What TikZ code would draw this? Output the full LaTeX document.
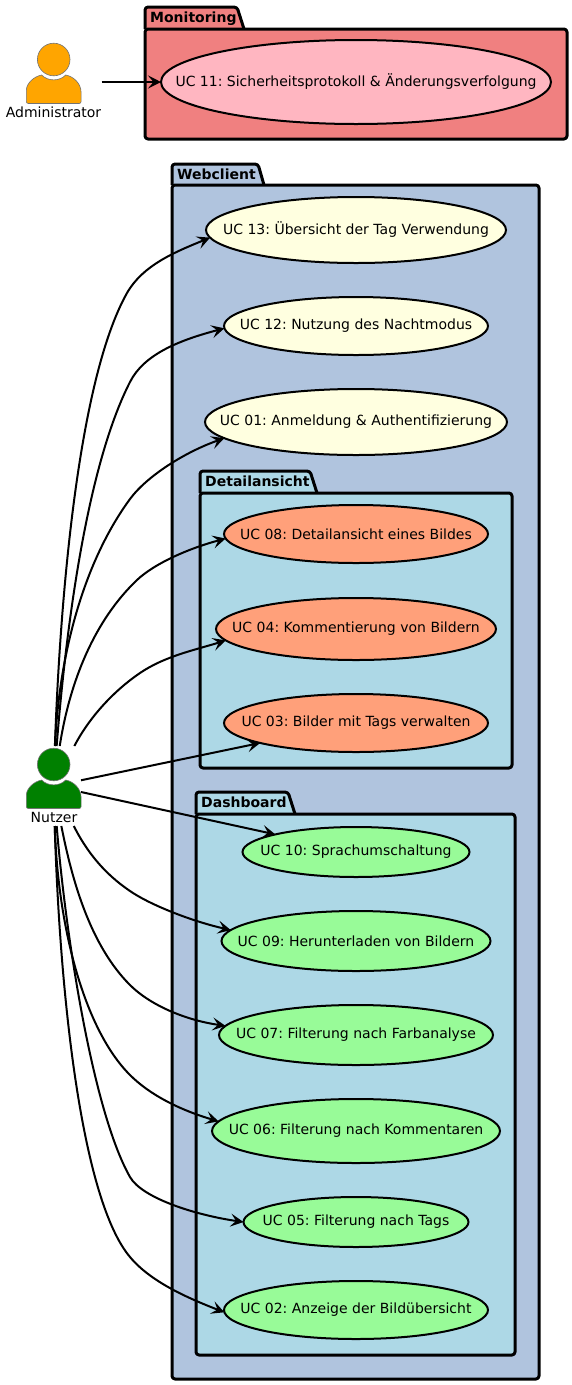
\documentclass[tikz,border=0pt]{standalone}
\usepackage{fontspec}
\setmainfont{DejaVu Sans}
\usetikzlibrary{arrows.meta}
\usetikzlibrary{shapes.geometric}

\definecolor{monitorbg}{HTML}{F08080}
\definecolor{webbg}{HTML}{B0C4DE}
\definecolor{innerbg}{HTML}{ADD8E6}
\definecolor{pinkuc}{HTML}{FFB6C1}
\definecolor{yellowuc}{HTML}{FFFFE0}
\definecolor{salmonuc}{HTML}{FFA07A}
\definecolor{greenuc}{HTML}{98FB98}
\definecolor{adminfill}{HTML}{FFA500}
\definecolor{nutzerfill}{HTML}{008000}

\tikzset{
    ucase/.style={ellipse, draw=black, line width=2, inner sep=0, outer sep=0,
        font=\fontsize{14}{16}\selectfont},
    actorbox/.style={inner sep=0, outer sep=0, minimum height=80},
    actorname/.style={inner sep=0, font=\fontsize{14}{16}\selectfont},
    pkgname/.style={inner sep=0, anchor=base west, font=\fontsize{14}{16}\selectfont\bfseries},
    pkgline/.style={draw=black, line width=3, rounded corners=3, line join=round},
    link/.style={line width=2, -{Stealth[length=13, width=13, inset=5.5]}}
}

% text of a use case, the ellipse takes its size from the style options only
\newcommand{\uctext}[1]{\makebox[0pt]{#1}}

% head and shoulders, measured from the middle of the head
\newcommand{\drawactor}[3]{
    \begin{scope}[shift={(#1, #2)}, draw=black!55, line width=0.6]
        \draw[fill=#3] (0, 0) circle (16.3);
        \draw[fill=#3] (-27.4, 33)
            .. controls (-27.4, 24) and (-20, 17) .. (-12, 15.5)
            .. controls (-6, 22) and (6, 22) .. (12, 15.5)
            .. controls (20, 17) and (27.4, 24) .. (27.4, 33)
            [rounded corners=2] -- (27.4, 44) -- (-27.4, 44) -- cycle;
    \end{scope}
}

% left, tab top, tab top right, tab bottom right, body top, right, bottom
\newcommand{\drawpackage}[8]{
    \fill[#8, rounded corners=3] (#1, #7) -- (#1, #2) -- (#3, #2) -- (#4, #5) -- (#6, #5) -- (#6, #7) -- cycle;
    \draw[pkgline] (#1, #5) -- (#1, #2) -- (#3, #2) -- (#4, #5);
    \draw[pkgline] (#1, #7) rectangle (#6, #5);
}

\begin{document}
\frenchspacing
\begin{tikzpicture}[x=1pt, y=-1pt]

    \useasboundingbox (0, 0) rectangle (572, 1385);

    % Packages, outer ones first
    \drawpackage{145}{7}{237}{244}{29}{567}{139}{monitorbg}
    \drawpackage{172}{164}{258}{264}{185}{539}{1379}{webbg}
    \drawpackage{200}{471}{310}{317}{493}{512}{768}{innerbg}
    \drawpackage{196}{792}{288}{295}{814}{515}{1355}{innerbg}

    \node[pkgname] (monitoringname) at (150, 22) {Monitoring};
    \node[pkgname] (webclientname) at (177, 179) {Webclient};
    \node[pkgname] (detailname) at (205, 486) {Detailansicht};
    \node[pkgname] (dashboardname) at (201, 807) {Dashboard};

    % Use cases
    \node[ucase, fill=pinkuc, minimum width=390, minimum height=84] (uc11) at (356, 82) {\uctext{UC 11: Sicherheitsprotokoll \& Änderungsverfolgung}};

    \node[ucase, fill=yellowuc, minimum width=300, minimum height=66] (uc13) at (356, 230) {\uctext{UC 13: Übersicht der Tag Verwendung}};
    \node[ucase, fill=yellowuc, minimum width=264, minimum height=58] (uc12) at (356, 326) {\uctext{UC 12: Nutzung des Nachtmodus}};
    \node[ucase, fill=yellowuc, minimum width=302, minimum height=66] (uc01) at (356, 422) {\uctext{UC 01: Anmeldung \& Authentifizierung}};

    \node[ucase, fill=salmonuc, minimum width=264, minimum height=58] (uc08) at (356, 534) {\uctext{UC 08: Detailansicht eines Bildes}};
    \node[ucase, fill=salmonuc, minimum width=280, minimum height=62] (uc04) at (356, 629) {\uctext{UC 04: Kommentierung von Bildern}};
    \node[ucase, fill=salmonuc, minimum width=264, minimum height=58] (uc03) at (356, 723) {\uctext{UC 03: Bilder mit Tags verwalten}};

    \node[ucase, fill=greenuc, minimum width=227, minimum height=50] (uc10) at (356, 852) {\uctext{UC 10: Sprachumschaltung}};
    \node[ucase, fill=greenuc, minimum width=269, minimum height=60] (uc09) at (356, 941) {\uctext{UC 09: Herunterladen von Bildern}};
    \node[ucase, fill=greenuc, minimum width=274, minimum height=60] (uc07) at (356, 1035) {\uctext{UC 07: Filterung nach Farbanalyse}};
    \node[ucase, fill=greenuc, minimum width=288, minimum height=64] (uc06) at (356, 1131) {\uctext{UC 06: Filterung nach Kommentaren}};
    \node[ucase, fill=greenuc, minimum width=225, minimum height=50] (uc05) at (356, 1222) {\uctext{UC 05: Filterung nach Tags}};
    \node[ucase, fill=greenuc, minimum width=264, minimum height=58] (uc02) at (356, 1310) {\uctext{UC 02: Anzeige der Bildübersicht}};

    % Actors
    \drawactor{53.7}{59.5}{adminfill}
    \drawactor{53.7}{764.5}{nutzerfill}
    \node[actorbox, minimum width=96] (admin) at (53.5, 82) {};
    \node[actorbox, minimum width=55] (nutzer) at (53.5, 786) {};
    \node[actorname] (adminname) at (53.5, 112) {Administrator};
    \node[actorname] (nutzername) at (54, 817) {Nutzer};

    % Connectors
    \begin{scope}[link]
        \draw (admin) -- (uc11);

        \draw (nutzer) .. controls (60, 600) and (78, 380) .. (127, 293) .. controls (143, 265) and (175, 252) .. (uc13.183.2);
        \draw (nutzer) .. controls (65, 640) and (85, 470) .. (130, 382) .. controls (144, 354) and (180, 340) .. (uc12.181);
        \draw (nutzer) .. controls (58, 670) and (78, 570) .. (130, 499) .. controls (147, 476) and (185, 452) .. (uc01.187.1);
        \draw (nutzer) .. controls (70, 680) and (95, 620) .. (137, 580) .. controls (155, 563) and (190, 548) .. (uc08.182.7);
        \draw (nutzer) .. controls (90, 716) and (115, 690) .. (140, 673) .. controls (165, 656) and (195, 650) .. (uc04.185.4);

        \draw (nutzer) -- (uc03);
        \draw (nutzer) -- (uc10);

        \draw (nutzer) .. controls (90, 858) and (110, 878) .. (133, 893) .. controls (155, 907) and (195, 922) .. (uc09.175);
        \draw (nutzer) .. controls (72, 880) and (90, 945) .. (130, 985) .. controls (150, 1005) and (185, 1020) .. (uc07.176.6);
        \draw (nutzer) .. controls (58, 930) and (85, 1030) .. (130, 1075) .. controls (150, 1095) and (180, 1110) .. (uc06.176.7);
        \draw (nutzer) .. controls (65, 930) and (92, 1110) .. (130, 1177) .. controls (142, 1198) and (195, 1215) .. (uc05.180);
        \draw (nutzer) .. controls (60, 1000) and (82, 1200) .. (130, 1257) .. controls (150, 1281) and (185, 1297) .. (uc02.181.3);
    \end{scope}

\end{tikzpicture}
\end{document}
